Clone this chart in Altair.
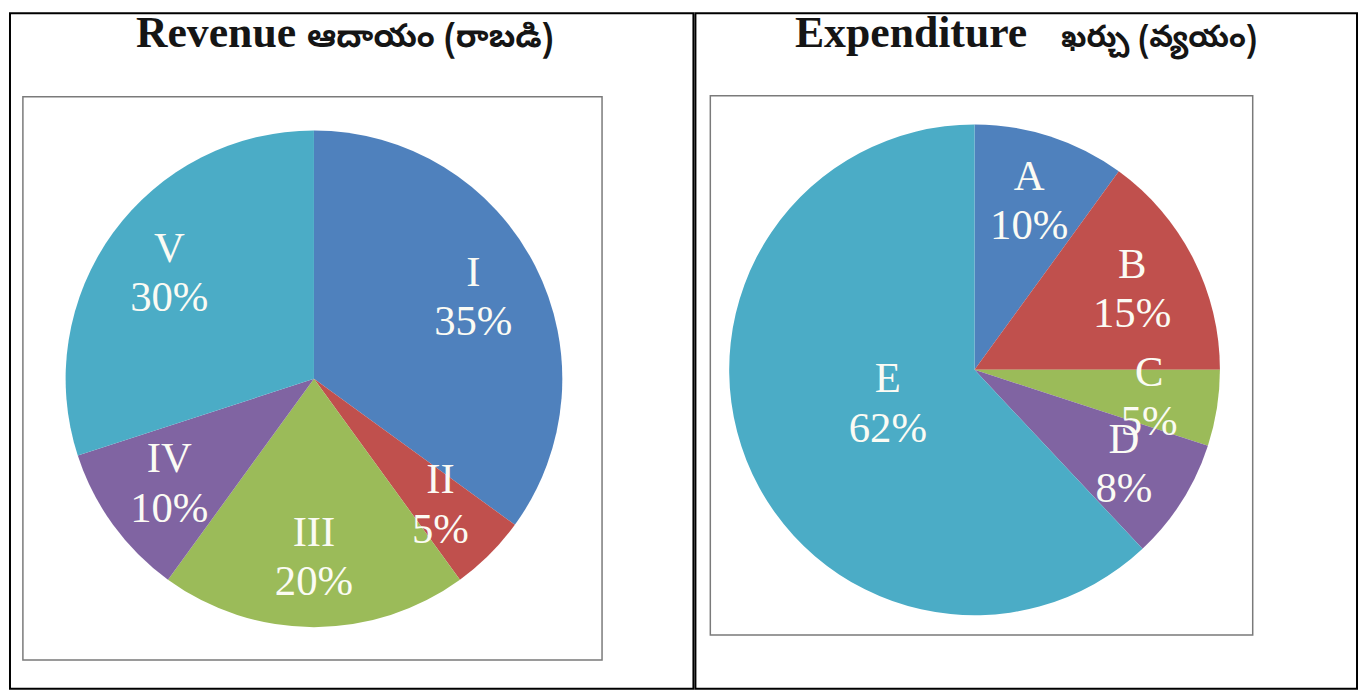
import altair as alt
import pandas as pd

# Data
rev_cats = ["I", "II", "III", "IV", "V"]
rev_vals = [35, 5, 20, 10, 30]
exp_cats = ["A", "B", "C", "D", "E"]
exp_vals = [10, 15, 5, 8, 62]
slice_colors = ["#4F81BD", "#C0504D", "#9BBB59", "#8064A2", "#4BACC6"]
rev_title_en, rev_title_te = "Revenue", "ఆదాయం (రాబడి)"
exp_title_en, exp_title_te = "Expenditure", "ఖర్చు (వ్యయం)"

FONT = "Liberation Serif, Times New Roman, serif"
TE_FONT = "Noto Sans Telugu, Noto Serif Telugu, Lohit Telugu, Liberation Serif, serif"


def panel(cats, vals, en, te, w, h, cx, cy, r, lr, box, en_end, te_start, te_size):
    df = pd.DataFrame({"cat": cats, "val": vals, "idx": list(range(len(cats)))})
    df["label"] = [f"{c}\n{v}%" for c, v in zip(cats, vals)]
    total = sum(vals)
    one = pd.DataFrame({"en": [en], "te": [te]})
    frame = alt.Chart(one).mark_rect(
        fill="white", stroke="#7a7a7a", strokeWidth=1.5
    ).encode(
        x=alt.value(box[0]), x2=alt.value(box[2]),
        y=alt.value(box[1]), y2=alt.value(box[3]),
    )
    title_en = alt.Chart(one).mark_text(
        font=FONT, fontSize=44, fontWeight="bold", color="#151515",
        align="right", baseline="alphabetic",
    ).encode(text="en:N", x=alt.value(en_end), y=alt.value(34))
    title_te = alt.Chart(one).mark_text(
        font=TE_FONT, fontSize=te_size, fontWeight="bold", color="#151515",
        align="left", baseline="alphabetic",
    ).encode(text="te:N", x=alt.value(te_start), y=alt.value(34))
    arcs = alt.Chart(df).mark_arc(radius=r, x=cx, y=cy).encode(
        theta=alt.Theta("val:Q", stack=True),
        order=alt.Order("idx:Q"),
        color=alt.Color("cat:N", scale=alt.Scale(domain=cats, range=slice_colors), legend=None),
    )
    # labels at the middle angle of each slice; a dominant slice (best-fit style)
    # gets its label nearer the centre
    labels = alt.Chart(df).transform_window(
        cum="sum(val)", sort=[alt.SortField("idx")]
    ).transform_calculate(
        mid="datum.cum - datum.val / 2",
        lr=f"datum.val >= 50 ? {r * 0.38} : {lr}",
    ).mark_text(
        x=cx, y=cy, dy=-25, font=FONT, fontSize=43, color="#fbfbf4",
        lineBreak="\n", lineHeight=50, align="center", baseline="middle",
    ).encode(
        theta=alt.Theta("mid:Q", stack=None, scale=alt.Scale(domain=[0, total])),
        radius=alt.Radius("lr:Q", scale=None),
        text="label:N",
    )
    return alt.layer(frame, title_en, title_te, arcs, labels).resolve_scale(
        theta="independent"
    ).properties(
        width=w, height=h,
        view=alt.ViewBackground(stroke="black", strokeWidth=2, fill="white"),
    )


left = panel(rev_cats, rev_vals, rev_title_en, rev_title_te, 688, 680,
             306, 368, 250, 180, (13, 84, 596, 651), 288, 299, 33)
right = panel(exp_cats, exp_vals, exp_title_en, exp_title_te, 666, 680,
              281, 359, 247, 178, (15, 83, 561, 626), 334, 368, 31)

chart = alt.hconcat(left, right, spacing=0).resolve_scale(
    color="independent", theta="independent"
).properties(
    padding={"left": 1, "top": 1, "right": 1, "bottom": 1}
).configure(background="white")

chart.save("out.html", embed_options={"renderer": "svg", "actions": False})
